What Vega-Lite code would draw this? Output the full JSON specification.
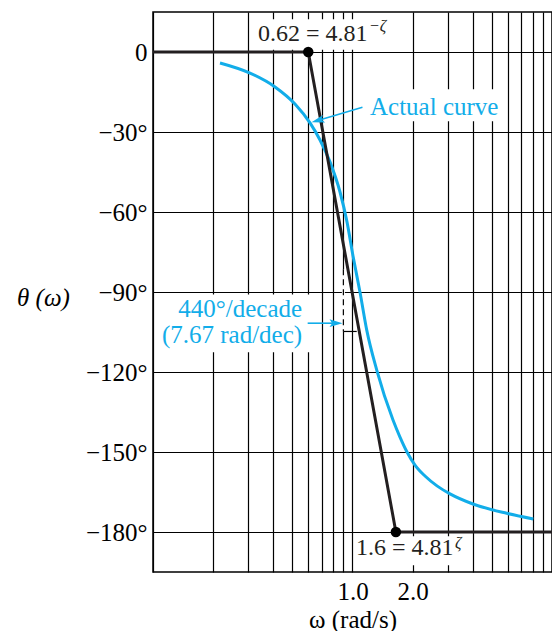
{
  "$schema": "https://vega.github.io/schema/vega-lite/v6.json",
  "width": 399,
  "height": 560,
  "autosize": {"type": "none"},
  "padding": {"left": 153, "top": 12, "right": 0, "bottom": 59},
  "background": "white",
  "config": {
    "view": {"stroke": "black", "strokeWidth": 1.5},
    "font": "Liberation Serif",
    "axis": {
      "labelFont": "Liberation Serif", "titleFont": "Liberation Serif",
      "labelFontSize": 25, "titleFontSize": 25,
      "labelColor": "black", "titleColor": "black", "titleFontWeight": "normal",
      "gridColor": "black", "gridOpacity": 1, "gridWidth": 1.2,
      "domain": false, "ticks": false, "labelOverlap": false, "labelFlush": false
    }
  },
  "datasets": {
    "curve": [
      {"w": 0.2167, "t": -4.1}, {"w": 0.3063, "t": -7.9}, {"w": 0.4088, "t": -13.1},
      {"w": 0.5149, "t": -19.5}, {"w": 0.6124, "t": -26.6}, {"w": 0.6873, "t": -33},
      {"w": 0.7711, "t": -41.2}, {"w": 0.8657, "t": -52.5}, {"w": 0.9384, "t": -63.7},
      {"w": 1.006, "t": -76.5}, {"w": 1.09, "t": -90}, {"w": 1.178, "t": -104.2},
      {"w": 1.322, "t": -119.2}, {"w": 1.596, "t": -138}, {"w": 1.73, "t": -144.4},
      {"w": 1.876, "t": -150}, {"w": 2.057, "t": -154.9}, {"w": 2.309, "t": -159},
      {"w": 2.652, "t": -162.7}, {"w": 3.082, "t": -165.7}, {"w": 4.018, "t": -169.5},
      {"w": 5.93, "t": -173}, {"w": 8.06, "t": -175.1}
    ],
    "asym": [
      {"w": 0.1, "t": 0}, {"w": 0.6, "t": 0}, {"w": 1.65, "t": -180}, {"w": 10, "t": -180}
    ],
    "dots": [{"w": 0.6, "t": 0}, {"w": 1.65, "t": -180}],
    "boxes": [
      {"w": 0.32, "w2": 1.7, "t": 12.3, "t2": 0.8},
      {"w": 1.08, "w2": 5.75, "t": -14, "t2": -26},
      {"w": 0.103, "w2": 0.62, "t": -90.9, "t2": -112.6},
      {"w": 1.02, "w2": 3.85, "t": -181.6, "t2": -192.5}
    ],
    "arrows": [
      {"w": 1.122, "t": -20.7, "w2": 0.67, "t2": -25.7},
      {"w": 0.596, "t": -101.7, "w2": 0.83, "t2": -101.7}
    ],
    "headA": [{"w": 0.67, "t": -25.7}],
    "headB": [{"w": 0.827, "t": -101.7}],
    "vdash": [{"w": 0.9, "t": -81.5, "t2": -104.8}],
    "hseg": [{"w": 0.9, "w2": 1.05, "t": -104.8}],
    "blackText": [
      {"w": 0.336, "t": 3.94, "s": "0.62 = 4.81"},
      {"w": 1.041, "t": -188.6, "s": "1.6 = 4.81"}
    ],
    "supText": [
      {"w": 1.21, "t": 7.9, "s": "−ζ"},
      {"w": 3.265, "t": -186, "s": "ζ"}
    ],
    "blueLeft": [{"w": 1.224, "t": -23.6, "s": "Actual curve"}],
    "blueRight": [
      {"w": 0.559, "t": -99.4, "s": "440°/decade"},
      {"w": 0.559, "t": -109.1, "s": "(7.67 rad/dec)"}
    ]
  },
  "encoding": {
    "x": {
      "field": "w", "type": "quantitative",
      "scale": {"type": "log", "domain": [0.1, 10], "nice": false},
      "axis": {
        "grid": true,
        "values": [0.1, 0.2, 0.3, 0.4, 0.5, 0.6, 0.7, 0.8, 0.9, 1, 2, 3, 4, 5, 6, 7, 8, 9, 10],
        "labelExpr": "datum.value == 1 ? '1.0' : (datum.value == 2 ? '2.0' : '')",
        "labelPadding": 7,
        "title": "ω (rad/s)",
        "titleY": 55,
        "titleBaseline": "alphabetic"
      }
    },
    "y": {
      "field": "t", "type": "quantitative",
      "scale": {"domain": [-195, 15], "nice": false, "zero": false},
      "axis": {
        "grid": true,
        "values": [-180, -150, -120, -90, -60, -30, 0],
        "labelExpr": "datum.value == 0 ? '0' : '−' + abs(datum.value) + '°'",
        "labelPadding": 6,
        "title": "θ (ω)",
        "titleFontStyle": "italic",
        "titleAngle": 0,
        "titleX": -110,
        "titleY": 285,
        "titleAlign": "center",
        "titleBaseline": "middle"
      }
    }
  },
  "layer": [
    {
      "data": {"name": "boxes"},
      "mark": {"type": "rect", "fill": "white"},
      "encoding": {"x2": {"field": "w2"}, "y2": {"field": "t2"}}
    },
    {
      "data": {"name": "vdash"},
      "mark": {"type": "rule", "color": "white", "strokeWidth": 3},
      "encoding": {"y2": {"field": "t2"}}
    },
    {
      "data": {"name": "vdash"},
      "mark": {"type": "rule", "color": "black", "strokeWidth": 1.2, "strokeDash": [6, 4]},
      "encoding": {"y2": {"field": "t2"}}
    },
    {
      "data": {"name": "hseg"},
      "mark": {"type": "rule", "color": "black", "strokeWidth": 1.2},
      "encoding": {"x2": {"field": "w2"}}
    },
    {
      "data": {"name": "curve"},
      "mark": {"type": "line", "color": "#12ade9", "strokeWidth": 3, "interpolate": "monotone"}
    },
    {
      "data": {"name": "asym"},
      "mark": {"type": "line", "color": "#231f20", "strokeWidth": 3}
    },
    {
      "data": {"name": "dots"},
      "mark": {"type": "point", "shape": "circle", "filled": true, "color": "black", "opacity": 1, "size": 110}
    },
    {
      "data": {"name": "arrows"},
      "mark": {"type": "rule", "color": "#12ade9", "strokeWidth": 1.6},
      "encoding": {"x2": {"field": "w2"}, "y2": {"field": "t2"}}
    },
    {
      "data": {"name": "headA"},
      "mark": {"type": "point", "shape": "M1,0 L-1,-0.6 L-0.6,0 L-1,0.6 Z", "filled": true, "color": "#12ade9", "opacity": 1, "size": 170, "angle": 163.6}
    },
    {
      "data": {"name": "headB"},
      "mark": {"type": "point", "shape": "M1,0 L-1,-0.6 L-0.6,0 L-1,0.6 Z", "filled": true, "color": "#12ade9", "opacity": 1, "size": 170, "angle": 0}
    },
    {
      "data": {"name": "blackText"},
      "mark": {"type": "text", "align": "left", "baseline": "alphabetic", "font": "Liberation Serif", "fontSize": 24, "color": "#231f20"},
      "encoding": {"text": {"field": "s"}}
    },
    {
      "data": {"name": "supText"},
      "mark": {"type": "text", "align": "left", "baseline": "alphabetic", "font": "Liberation Serif", "fontSize": 16, "fontStyle": "italic", "color": "#231f20"},
      "encoding": {"text": {"field": "s"}}
    },
    {
      "data": {"name": "blueLeft"},
      "mark": {"type": "text", "align": "left", "baseline": "alphabetic", "font": "Liberation Serif", "fontSize": 25, "color": "#12ade9"},
      "encoding": {"text": {"field": "s"}}
    },
    {
      "data": {"name": "blueRight"},
      "mark": {"type": "text", "align": "right", "baseline": "alphabetic", "font": "Liberation Serif", "fontSize": 25, "color": "#12ade9"},
      "encoding": {"text": {"field": "s"}}
    }
  ]
}
